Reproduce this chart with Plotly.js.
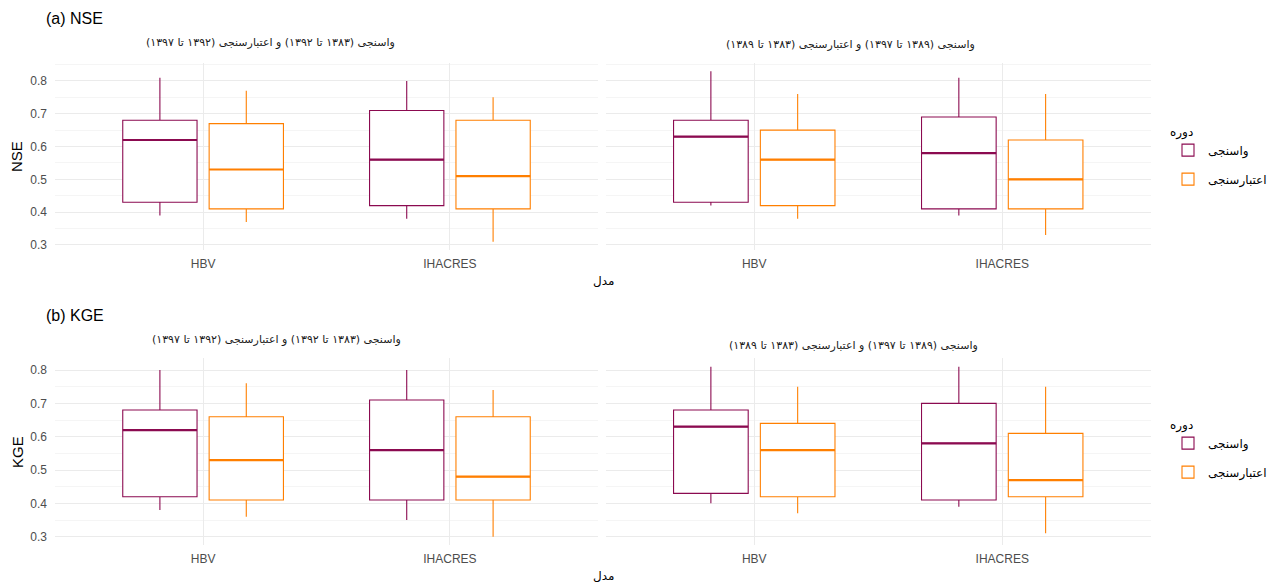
<!DOCTYPE html>
<html>
<head>
<meta charset="utf-8">
<script src="https://cdn.plot.ly/plotly-3.0.1.min.js"></script>
<style>html,body{margin:0;padding:0;background:#fff;overflow:hidden;}#chart{width:1274px;height:585px;}</style>
</head>
<body>
<div id="chart"></div>
<script>
// ---- data ----
const models = ['HBV', 'IHACRES'];
const calName = 'واسنجی';
const valName = 'اعتبارسنجی';
const legendTitle = 'دوره';
const xTitle = 'مدل';
const facetTitles = [
  'واسنجی (۱۳۸۳ تا ۱۳۹۲) و اعتبارسنجی (۱۳۹۲ تا ۱۳۹۷)',
  'واسنجی (۱۳۸۹ تا ۱۳۹۷) و اعتبارسنجی (۱۳۸۳ تا ۱۳۸۹)'
];
const rowTitles = ['(a) NSE', '(b) KGE'];
const rowMetrics = ['NSE', 'KGE'];
const yTickVals = [0.3, 0.4, 0.5, 0.6, 0.7, 0.8];

// NSE, period 1
const nseP1CalLower = [0.39, 0.38], nseP1CalQ1 = [0.43, 0.42], nseP1CalMed = [0.62, 0.56], nseP1CalQ3 = [0.68, 0.71], nseP1CalUpper = [0.81, 0.80];
const nseP1ValLower = [0.37, 0.31], nseP1ValQ1 = [0.41, 0.41], nseP1ValMed = [0.53, 0.51], nseP1ValQ3 = [0.67, 0.68], nseP1ValUpper = [0.77, 0.75];
// NSE, period 2
const nseP2CalLower = [0.42, 0.39], nseP2CalQ1 = [0.43, 0.41], nseP2CalMed = [0.63, 0.58], nseP2CalQ3 = [0.68, 0.69], nseP2CalUpper = [0.83, 0.81];
const nseP2ValLower = [0.38, 0.33], nseP2ValQ1 = [0.42, 0.41], nseP2ValMed = [0.56, 0.50], nseP2ValQ3 = [0.65, 0.62], nseP2ValUpper = [0.76, 0.76];
// KGE, period 1
const kgeP1CalLower = [0.38, 0.35], kgeP1CalQ1 = [0.42, 0.41], kgeP1CalMed = [0.62, 0.56], kgeP1CalQ3 = [0.68, 0.71], kgeP1CalUpper = [0.80, 0.80];
const kgeP1ValLower = [0.36, 0.30], kgeP1ValQ1 = [0.41, 0.41], kgeP1ValMed = [0.53, 0.48], kgeP1ValQ3 = [0.66, 0.66], kgeP1ValUpper = [0.76, 0.74];
// KGE, period 2
const kgeP2CalLower = [0.40, 0.39], kgeP2CalQ1 = [0.43, 0.41], kgeP2CalMed = [0.63, 0.58], kgeP2CalQ3 = [0.68, 0.70], kgeP2CalUpper = [0.81, 0.81];
const kgeP2ValLower = [0.37, 0.31], kgeP2ValQ1 = [0.42, 0.42], kgeP2ValMed = [0.56, 0.47], kgeP2ValQ3 = [0.64, 0.61], kgeP2ValUpper = [0.75, 0.75];

// ---- styling ----
const calColor = '#8B0A50';
const valColor = '#FF7F00';
const faFont = 'DejaVu Sans, Noto Sans, sans-serif';
const enFont = 'Liberation Sans, Arial, sans-serif';

function box(name, color, lower, q1, med, q3, upper, xa, ya, showlegend, legend, agroup, ogroup) {
  return {
    type: 'box', name: name, legendgroup: name + legend, showlegend: showlegend, legend: legend,
    x: models, lowerfence: lower, q1: q1, median: med, q3: q3, upperfence: upper,
    xaxis: xa, yaxis: ya, alignmentgroup: agroup, offsetgroup: ogroup,
    fillcolor: 'rgba(255,255,255,1)',
    line: { color: color, width: 1.1 },
    whiskerwidth: 0, boxpoints: false, hoverinfo: 'skip'
  };
}
// thicker median: a zero-height box drawn at the median in the same slot
function medianLine(name, color, med, xa, ya, legend, agroup, ogroup) {
  return {
    type: 'box', name: name, legendgroup: name + legend, showlegend: false, legend: legend,
    x: models, lowerfence: med, q1: med, median: med, q3: med, upperfence: med,
    xaxis: xa, yaxis: ya, alignmentgroup: agroup, offsetgroup: ogroup,
    fillcolor: 'rgba(0,0,0,0)',
    line: { color: color, width: 2.2 },
    whiskerwidth: 0, boxpoints: false, hoverinfo: 'skip'
  };
}

const traces = [
  box(calName, calColor, nseP1CalLower, nseP1CalQ1, nseP1CalMed, nseP1CalQ3, nseP1CalUpper, 'x', 'y', true, 'legend', 'a1', 'cal'),
  box(valName, valColor, nseP1ValLower, nseP1ValQ1, nseP1ValMed, nseP1ValQ3, nseP1ValUpper, 'x', 'y', true, 'legend', 'a1', 'val'),
  box(calName, calColor, nseP2CalLower, nseP2CalQ1, nseP2CalMed, nseP2CalQ3, nseP2CalUpper, 'x2', 'y2', false, 'legend', 'a2', 'cal'),
  box(valName, valColor, nseP2ValLower, nseP2ValQ1, nseP2ValMed, nseP2ValQ3, nseP2ValUpper, 'x2', 'y2', false, 'legend', 'a2', 'val'),
  box(calName, calColor, kgeP1CalLower, kgeP1CalQ1, kgeP1CalMed, kgeP1CalQ3, kgeP1CalUpper, 'x3', 'y3', true, 'legend2', 'b1', 'cal'),
  box(valName, valColor, kgeP1ValLower, kgeP1ValQ1, kgeP1ValMed, kgeP1ValQ3, kgeP1ValUpper, 'x3', 'y3', true, 'legend2', 'b1', 'val'),
  box(calName, calColor, kgeP2CalLower, kgeP2CalQ1, kgeP2CalMed, kgeP2CalQ3, kgeP2CalUpper, 'x4', 'y4', false, 'legend2', 'b2', 'cal'),
  box(valName, valColor, kgeP2ValLower, kgeP2ValQ1, kgeP2ValMed, kgeP2ValQ3, kgeP2ValUpper, 'x4', 'y4', false, 'legend2', 'b2', 'val'),
  medianLine(calName, calColor, nseP1CalMed, 'x', 'y', 'legend', 'a1', 'cal'),
  medianLine(valName, valColor, nseP1ValMed, 'x', 'y', 'legend', 'a1', 'val'),
  medianLine(calName, calColor, nseP2CalMed, 'x2', 'y2', 'legend', 'a2', 'cal'),
  medianLine(valName, valColor, nseP2ValMed, 'x2', 'y2', 'legend', 'a2', 'val'),
  medianLine(calName, calColor, kgeP1CalMed, 'x3', 'y3', 'legend2', 'b1', 'cal'),
  medianLine(valName, valColor, kgeP1ValMed, 'x3', 'y3', 'legend2', 'b1', 'val'),
  medianLine(calName, calColor, kgeP2CalMed, 'x4', 'y4', 'legend2', 'b2', 'cal'),
  medianLine(valName, valColor, kgeP2ValMed, 'x4', 'y4', 'legend2', 'b2', 'val')
];

const W = 1274, H = 585;
const px = v => v / W;
const py = v => 1 - v / H;

function xaxis(domain, anchor) {
  return {
    domain: domain, anchor: anchor, type: 'category', range: [-0.6, 1.6],
    showgrid: true, gridcolor: '#ebebeb', gridwidth: 1, zeroline: false, showline: false,
    ticks: '', ticklabelstandoff: 5,
    tickfont: { family: enFont, size: 12, color: '#4d4d4d' }, fixedrange: true
  };
}
function yaxis(domain, anchor, range, showLabels) {
  return {
    domain: domain, anchor: anchor, range: range,
    tickvals: yTickVals, tickformat: '.1f', showticklabels: showLabels,
    showgrid: true, gridcolor: '#ebebeb', gridwidth: 1, zeroline: false, showline: false,
    minor: { dtick: 0.05, tick0: 0.25, showgrid: true, gridcolor: '#f3f3f3', gridwidth: 0.8 },
    ticks: '', ticklabelstandoff: 7,
    tickfont: { family: enFont, size: 12, color: '#4d4d4d' }, fixedrange: true
  };
}

const dx1 = [px(55), px(598)], dx2 = [px(605.5), px(1151)];
const dyTop = [py(250.2), py(62.6)], dyBot = [py(545.2), py(358.2)];
const rTop = [0.284, 0.856], rBot = [0.2745, 0.8355];

function ann(text, x, y, opts) {
  return Object.assign({ text: text, x: x, y: y, xref: 'paper', yref: 'paper', showarrow: false,
    xanchor: 'center', yanchor: 'middle' }, opts);
}

const annotations = [
  ann(rowTitles[0], px(44), py(18), { xanchor: 'left', font: { family: enFont, size: 16, color: '#000' } }),
  ann(rowTitles[1], px(44), py(315), { xanchor: 'left', font: { family: enFont, size: 16, color: '#000' } }),
  ann(facetTitles[0], px(270), py(43), { font: { family: faFont, size: 11, color: '#1a1a1a' } }),
  ann(facetTitles[1], px(850), py(45), { font: { family: faFont, size: 11, color: '#1a1a1a' } }),
  ann(facetTitles[0], px(276), py(339), { font: { family: faFont, size: 11, color: '#1a1a1a' } }),
  ann(facetTitles[1], px(854), py(345), { font: { family: faFont, size: 11, color: '#1a1a1a' } }),
  ann(rowMetrics[0], px(17), py(157), { textangle: -90, font: { family: enFont, size: 15, color: '#000' } }),
  ann(rowMetrics[1], px(17), py(452), { textangle: -90, font: { family: enFont, size: 15, color: '#000' } }),
  ann(xTitle, px(603), py(281), { font: { family: faFont, size: 12, color: '#000' } }),
  ann(xTitle, px(603), py(576), { font: { family: faFont, size: 12, color: '#000' } })
];

function legendCfg(topPx) {
  return {
    x: px(1168), y: py(topPx), xanchor: 'left', yanchor: 'top',
    title: { text: legendTitle, side: 'top', font: { family: faFont, size: 12, color: '#000' } },
    font: { family: faFont, size: 12, color: '#000' },
    bgcolor: 'rgba(0,0,0,0)', itemclick: false, itemdoubleclick: false
  };
}

const layout = {
  width: W, height: H,
  margin: { l: 0, r: 0, t: 0, b: 0, autoexpand: false },
  paper_bgcolor: '#fff', plot_bgcolor: '#fff',
  boxmode: 'group', boxgap: 0.3, boxgroupgap: 0.14,
  xaxis: xaxis(dx1, 'y'), yaxis: yaxis(dyTop, 'x', rTop, true),
  xaxis2: xaxis(dx2, 'y2'), yaxis2: yaxis(dyTop, 'x2', rTop, false),
  xaxis3: xaxis(dx1, 'y3'), yaxis3: yaxis(dyBot, 'x3', rBot, true),
  xaxis4: xaxis(dx2, 'y4'), yaxis4: yaxis(dyBot, 'x4', rBot, false),
  legend: legendCfg(120),
  legend2: legendCfg(413),
  annotations: annotations,
  showlegend: true
};

Plotly.newPlot('chart', traces, layout, { displayModeBar: false, staticPlot: true });
</script>
</body>
</html>
